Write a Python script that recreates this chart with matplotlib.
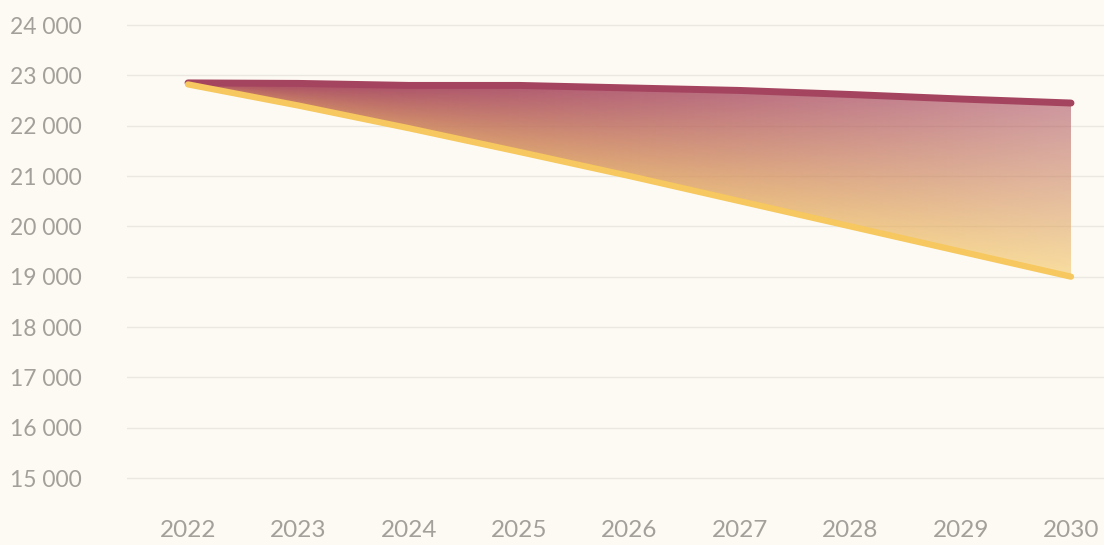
import numpy as np
import matplotlib
matplotlib.use("Agg")
import matplotlib.pyplot as plt
from matplotlib.colors import to_rgb

years = [2022, 2023, 2024, 2025, 2026, 2027, 2028, 2029, 2030]
upper = [22850, 22840, 22800, 22800, 22750, 22700, 22620, 22530, 22450]
lower = [22820, 22400, 21950, 21480, 21000, 20500, 20000, 19500, 19000]
y_ticks = [15000, 16000, 17000, 18000, 19000, 20000, 21000, 22000, 23000, 24000]
y_labels = ["15 000", "16 000", "17 000", "18 000", "19 000",
            "20 000", "21 000", "22 000", "23 000", "24 000"]

BG = "#fdfaf3"
MAROON = "#a5445f"
YELLOW = "#f6c85f"
TEXT = "#a3a09b"
GRID = "#ebe8e2"

plt.rcParams['font.family'] = ['Lato', 'DejaVu Sans']

fig = plt.figure(figsize=(11.04, 5.45), dpi=100, facecolor=BG)
ax = fig.add_axes([127 / 1104, 40 / 545, 977 / 1104, 505 / 545])
ax.set_facecolor(BG)

ax.set_xlim(2021.447, 2030.299)
ax.set_ylim(14464, 24497)

# gradient fill: mix of a global vertical ramp and a per-column ramp,
# fading out towards the right
nx, ny = 400, 400
gx = np.linspace(years[0], years[-1], nx)
gy = np.linspace(min(lower), max(upper), ny)
X, Y = np.meshgrid(gx, gy)
top = np.interp(X, years, upper)
bot = np.interp(X, years, lower)
span = np.maximum(top - bot, 1e-6)
s_loc = np.clip((top - Y) / span, 0, 1)
s_glob = np.clip((max(upper) - Y) / (max(upper) - min(lower)), 0, 1)
s = 0.6 * s_glob + 0.4 * s_loc
c1 = np.array(to_rgb(MAROON))
c2 = np.array(to_rgb(YELLOW))
rgba = np.zeros((ny, nx, 4))
for k in range(3):
    rgba[..., k] = c1[k] * (1 - s) + c2[k] * s
xf = (X - years[0]) / (years[-1] - years[0])
rgba[..., 3] = 0.97 - 0.4 * xf ** 1.5

poly = ax.fill_between(years, lower, upper, facecolor="none", edgecolor="none")
im = ax.imshow(rgba, extent=[gx[0], gx[-1], gy[0], gy[-1]], origin="lower",
               aspect="auto", interpolation="bilinear", zorder=2)
im.set_clip_path(poly.get_paths()[0], transform=ax.transData)

ax.plot(years, upper, color=MAROON, lw=5, solid_capstyle="round", zorder=3)
ax.plot(years, lower, color=YELLOW, lw=4.5, solid_capstyle="round", zorder=4)

ax.set_yticks(y_ticks)
ax.set_yticklabels(y_labels)
ax.set_xticks(years)
ax.set_xticklabels([str(y) for y in years])
ax.grid(axis="y", color=GRID, lw=1)
ax.set_axisbelow(True)
for sp in ax.spines.values():
    sp.set_visible(False)
ax.tick_params(axis="both", length=0, colors=TEXT)
ax.tick_params(axis="y", labelsize=16.5, pad=84)
ax.tick_params(axis="x", labelsize=17.5, pad=11)
for lab in ax.get_yticklabels():
    lab.set_horizontalalignment("left")

fig.savefig("out.png", dpi=100, facecolor=BG)
